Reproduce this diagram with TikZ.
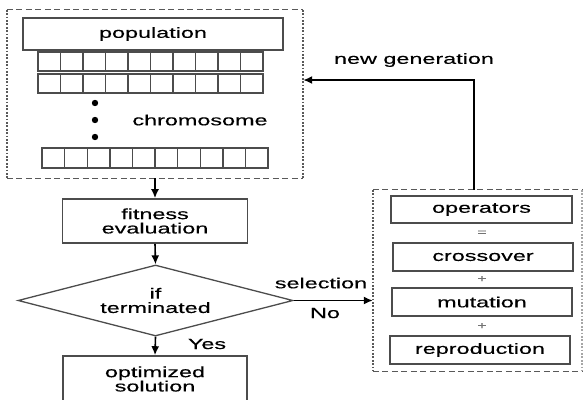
\documentclass[tikz,border=0pt]{standalone}
\usepackage{fontspec}
\setmainfont{Liberation Sans}[FakeStretch=1.58,FakeBold=0.35]
\usetikzlibrary{shapes.geometric,arrows.meta}
\begin{document}
\begin{tikzpicture}[x=1pt,y=-1pt,
  font=\fontsize{14.8}{14.8}\selectfont,
  box/.style={draw=black!70,line width=1.6pt,inner sep=0pt},
  cellline/.style={draw=black!70,line width=1.4pt},
  hdash/.style={draw=black!65,line width=1.3pt,dash pattern=on 6pt off 3.5pt},
  vdot/.style={draw=black!65,line width=1.5pt,dash pattern=on 1.8pt off 1.6pt},
  arr/.style={draw=black,line width=1.6pt,-{Latex[length=9pt,width=8pt]}},
  lbl/.style={inner sep=0pt},
  op/.style={inner sep=0pt,text=black!55,font=\fontsize{10}{10}\selectfont}]
\useasboundingbox (0,0) rectangle (585,399);
\clip (0,0) rectangle (585,399);
% top dashed container
\node[inner sep=0pt,minimum width=296pt,minimum height=168pt] (pop) at (155,94) {};
\draw[hdash] (pop.north west) -- (pop.north east);
\draw[hdash] (pop.south west) -- (pop.south east);
\draw[vdot] (pop.north west) -- (pop.south west);
\draw[vdot] (pop.north east) -- (pop.south east);
\node[box,minimum width=260pt,minimum height=32pt] (popbox) at (153,34) {population};
% chromosome rows
\node[box,minimum width=225pt,minimum height=19pt] (r1) at (150.5,61.5) {};
\node[box,minimum width=225pt,minimum height=19pt] (r2) at (150.5,83.5) {};
\node[box,minimum width=226pt,minimum height=20pt] (r3) at (155,158) {};
\foreach \i in {1,...,9} {
  \draw[cellline] ({38+22.5*\i},52) -- ++(0,19);
  \draw[cellline] ({38+22.5*\i},74) -- ++(0,19);
  \draw[cellline] ({42+22.6*\i},148) -- ++(0,20);
}
\foreach \yy in {103,120,137} \fill (95,\yy) circle (3.2pt);
\node[lbl] (chr) at (200,120) {chromosome};
% fitness
\node[box,minimum width=185pt,minimum height=44pt,align=center] (fit) at (155,221) {fitness\\[-0.5pt]evaluation};
% decision
\node[draw=black!70,line width=1.3pt,diamond,aspect=3.87,inner sep=0pt,minimum width=275pt,minimum height=71pt] (dec) at (155.5,300.5) {};
\node[lbl,align=center] (dect) at (155.5,300.5) {if\\[-0.5pt]terminated};
% optimized
\node[box,minimum width=184pt,minimum height=46pt,align=center] (opt) at (155,379) {optimized\\[-0.5pt]solution};
% right container
\node[inner sep=0pt,minimum width=209pt,minimum height=181pt] (ops) at (477.5,280.5) {};
\draw[hdash] (ops.north west) -- (ops.north east);
\draw[hdash] (ops.south west) -- (ops.south east);
\draw[vdot] (ops.north west) -- (ops.south west);
\draw[vdot,draw=black!35] (ops.north east) -- (ops.south east);
\node[box,minimum width=181pt,minimum height=27pt] (opbox) at (481.5,209.5) {operators};
\node[op] (eq) at (482,233) {=};
\node[box,minimum width=180pt,minimum height=28pt] (cross) at (483,257) {crossover};
\node[op] (p1) at (482,279) {+};
\node[box,minimum width=180pt,minimum height=28pt] (mut) at (482,302) {mutation};
\node[op] (p2) at (482,326) {+};
\node[box,minimum width=180pt,minimum height=28pt] (repr) at (480,350) {reproduction};
% connectors
\draw[arr] (pop.south) -- (fit.north);
\draw[arr] (fit.south) -- (dec.north);
\draw[arr] (dec.south) -- (opt.north);
\node[lbl] (yes) at (207,344) {Yes};
\draw[arr] (dec.east) -- (ops.west |- dec.east);
\node[lbl] (sel) at (321,283) {selection};
\node[lbl] (no) at (325,313) {No};
\coordinate (ng) at (474,80);
\draw[arr] (ops.north -| ng) -- (ng) -- (ng -| pop.east);
\node[lbl] (ngl) at (414,60) {new generation};
\end{tikzpicture}
\end{document}
